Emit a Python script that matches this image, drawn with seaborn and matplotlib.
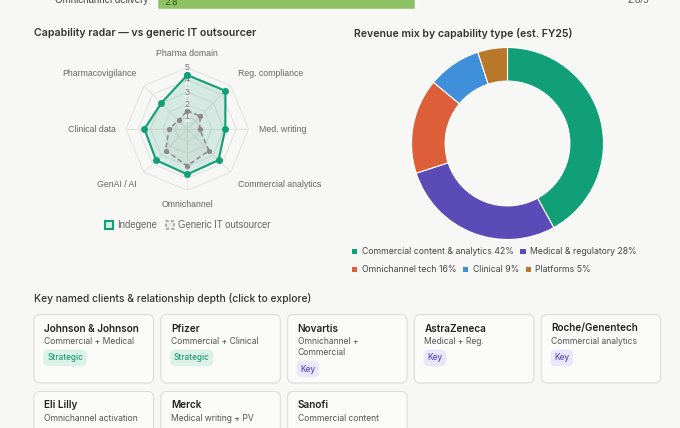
import numpy as np
import pandas as pd
import seaborn as sns
import matplotlib.pyplot as plt
from matplotlib.patches import FancyBboxPatch, Patch

W, H = 680, 428
BG = "#f7f7f5"

# ---- data ----
bar_label = "Omnichannel delivery"
bar_value = 2.8
bar_max = 5

radar_axes = ["Pharma domain", "Reg. compliance", "Med. writing", "Commercial analytics",
              "Omnichannel", "GenAI / AI", "Clinical data", "Pharmacovigilance"]
indegene_scores = [4.4, 4.4, 3.1, 3.6, 3.7, 3.6, 3.5, 3.0]
generic_scores = [1.5, 1.5, 1.0, 2.5, 3.0, 2.5, 1.5, 1.0]

mix_labels = ["Commercial content & analytics", "Medical & regulatory",
              "Omnichannel tech", "Clinical", "Platforms"]
mix_share = [42, 28, 16, 9, 5]
mix_colors = ["#119f77", "#5a4bb7", "#dc5f39", "#3f8fda", "#b9772a"]

client_names = ["Johnson & Johnson", "Pfizer", "Novartis", "AstraZeneca", "Roche/Genentech",
                "Eli Lilly", "Merck", "Sanofi"]
client_focus = ["Commercial + Medical", "Commercial + Clinical", "Omnichannel +\nCommercial",
                "Medical + Reg.", "Commercial analytics",
                "Omnichannel activation", "Medical writing + PV", "Commercial content"]
client_tier = ["Strategic", "Strategic", "Key", "Key", "Key", None, None, None]

sns.set_theme(style="white")
plt.rcParams["font.family"] = ["Inter", "DejaVu Sans"]


def box(x0, y0, x1, y1):
    return [x0 / W, 1 - y1 / H, (x1 - x0) / W, (y1 - y0) / H]


fig = plt.figure(figsize=(W / 100, H / 100), dpi=100, facecolor=BG)

# overlay in pixel coords for titles and cards
ov = fig.add_axes([0, 0, 1, 1])
ov.set_xlim(0, W)
ov.set_ylim(H, 0)
ov.axis("off")

# ---- top bar (cut off at the top of the view) ----
axb = fig.add_axes(box(157, -8, 617, 9))
axb.set_facecolor("#eeeeea")
sns.barplot(x=[bar_value], y=[bar_label], orient="h", color="#8ec164",
            width=1.0, ax=axb, saturation=1)
axb.set_xlim(0, bar_max)
axb.set_ylim(0.5, -0.5)
axb.axis("off")
axb.text(0.08, 0.1, f"{bar_value}", fontsize=6.5, color="#3b5a22", va="center")
axb.text(-0.02, 0.55, bar_label, transform=axb.transAxes, ha="right", va="center",
         fontsize=7, color="#444", family=["Liberation Sans"])
axb.text(1.024, 0.55, f"{bar_value}/{bar_max}", transform=axb.transAxes, ha="left",
         va="center", fontsize=7, color="#555", family=["Liberation Sans"])

# ---- titles ----
ov.text(34, 33, "Capability radar \u2014 vs generic IT outsourcer", fontsize=7.6,
        fontweight="semibold", color="#333", va="center")
ov.text(354, 33, "Revenue mix by capability type (est. FY25)", fontsize=7.6,
        fontweight="semibold", color="#333", va="center")
ov.text(34, 299, "Key named clients & relationship depth (click to explore)", fontsize=7.4,
        fontweight="medium", color="#333", va="center")

# ---- radar ----
cx, cy, R = 187.3, 129.0, 61.3
axr = fig.add_axes(box(cx - R, cy - R, cx + R, cy + R), projection="polar")
axr.set_facecolor("none")
axr.set_theta_zero_location("N")
axr.set_theta_direction(-1)
axr.set_ylim(0, 5)
axr.grid(False)
axr.spines["polar"].set_visible(False)
axr.set_xticks([])
axr.set_yticks([])

n = len(radar_axes)
theta = np.arange(n) * 2 * np.pi / n
closed = np.append(theta, 2 * np.pi)
for k in range(1, 6):
    axr.plot(closed, [k] * (n + 1), color="#e3e3df", lw=0.8, zorder=1)
for t in theta:
    axr.plot([t, t], [0, 5], color="#e3e3df", lw=0.8, zorder=1)

df = pd.DataFrame({
    "angle": np.concatenate([closed, closed]),
    "score": indegene_scores + indegene_scores[:1] + generic_scores + generic_scores[:1],
    "vendor": ["Indegene"] * (n + 1) + ["Generic IT outsourcer"] * (n + 1),
})
axr.fill(closed, indegene_scores + indegene_scores[:1], color="#119f77", alpha=0.15, zorder=2)
axr.fill(closed, generic_scores + generic_scores[:1], color="#9a9a9a", alpha=0.10, zorder=2)
sns.lineplot(data=df, x="angle", y="score", hue="vendor", style="vendor", sort=False,
             palette={"Indegene": "#119f77", "Generic IT outsourcer": "#8a8a8a"},
             dashes={"Indegene": "", "Generic IT outsourcer": (3, 2)},
             markers={"Indegene": "o", "Generic IT outsourcer": "o"},
             linewidth=1.5, markersize=5, markeredgewidth=0, legend=False, ax=axr, zorder=3)
for line in axr.lines[-2:]:
    if line.get_color() == "#8a8a8a":
        line.set_linewidth(1.1)
        line.set_markersize(3.8)
axr.set_xlabel("")
axr.set_ylabel("")
axr.set_ylim(0, 5)

for k in range(1, 6):
    axr.text(0, k, str(k), ha="center", va="center", fontsize=6.4, color="#777",
             family=["Liberation Sans"], zorder=2.5,
             bbox=dict(fc=BG, ec="none", alpha=0.6, pad=0.2))

r_lab = 5.83
for t, lab in zip(theta, radar_axes):
    s, c = np.sin(t), np.cos(t)
    ha = "center" if abs(s) < 0.1 else ("left" if s > 0 else "right")
    va = "center" if abs(c) < 0.1 else ("bottom" if c > 0 else "top")
    axr.text(t, r_lab, lab, ha=ha, va=va, fontsize=6.3, color="#666",
             family=["Liberation Sans"], clip_on=False)

handles = [Patch(fc="#d6ede4", ec="#119f77", lw=1.5),
           Patch(fc="#ececea", ec="#9a9a9a", lw=1.1, ls=(0, (2, 1.5)))]
fig.legend(handles, ["Indegene", "Generic IT outsourcer"], loc="center",
           bbox_to_anchor=(187.5 / W, 1 - 225 / H), ncol=2, frameon=False,
           handlelength=0.85, handleheight=0.85, handletextpad=0.45, columnspacing=0.9,
           prop={"family": "Liberation Sans", "size": 6.9}, labelcolor="#666")

# ---- donut ----
dx, dy, DR = 507.5, 143.5, 96.0
axd = fig.add_axes(box(dx - DR, dy - DR, dx + DR, dy + DR))
axd.pie(mix_share, colors=mix_colors, startangle=90, counterclock=False, radius=1,
        wedgeprops=dict(width=0.35, edgecolor="white", linewidth=0.8))
axd.set_xlim(-1, 1)
axd.set_ylim(-1, 1)

mix_handles = [Patch(fc=c, ec="none") for c in mix_colors]
mix_texts = [f"{l} {v}%" for l, v in zip(mix_labels, mix_share)]
leg_kw = dict(frameon=False, handlelength=0.6, handleheight=0.6, handletextpad=0.5,
              columnspacing=0.8, prop={"size": 6.25}, labelcolor="#444", loc="center left",
              borderpad=0, borderaxespad=0)
fig.legend(mix_handles[:2], mix_texts[:2], ncol=2,
           bbox_to_anchor=(352 / W, 1 - 252 / H), **leg_kw)
fig.legend(mix_handles[2:], mix_texts[2:], ncol=3,
           bbox_to_anchor=(352 / W, 1 - 270 / H), **leg_kw)

# ---- client cards ----
card_w, card_h, gap_x = 119.5, 68.5, 7.3
x_start, row_y = 34.0, [314.5, 391.5]
tier_style = {"Strategic": ("#dcf2e8", "#1e9e70"), "Key": ("#ebe7fb", "#5a4bc0")}
for i, (nm, fc, tr) in enumerate(zip(client_names, client_focus, client_tier)):
    x0 = x_start + (i % 5) * (card_w + gap_x)
    y0 = row_y[i // 5]
    ov.add_patch(FancyBboxPatch((x0, y0), card_w, card_h,
                                boxstyle="round,pad=0,rounding_size=6",
                                fc="#fbfbfa", ec="#dcdcd8", lw=0.8))
    ov.text(x0 + 10, y0 + 14, nm, fontsize=7.2, fontweight="semibold", color="#222",
            va="center")
    ov.text(x0 + 10, y0 + 22.5, fc, fontsize=6.2, color="#555", va="top",
            linespacing=1.35)
    if tr:
        nlines = fc.count("\n") + 1
        by = y0 + 43.5 + (nlines - 1) * 11
        bg, col = tier_style[tr]
        ov.text(x0 + 13, by, tr, fontsize=5.9, color=col, va="center",
                fontweight="medium",
                bbox=dict(boxstyle="round,pad=0.45,rounding_size=0.6", fc=bg, ec="none"))

fig.savefig("out.png", dpi=100, facecolor=BG)
